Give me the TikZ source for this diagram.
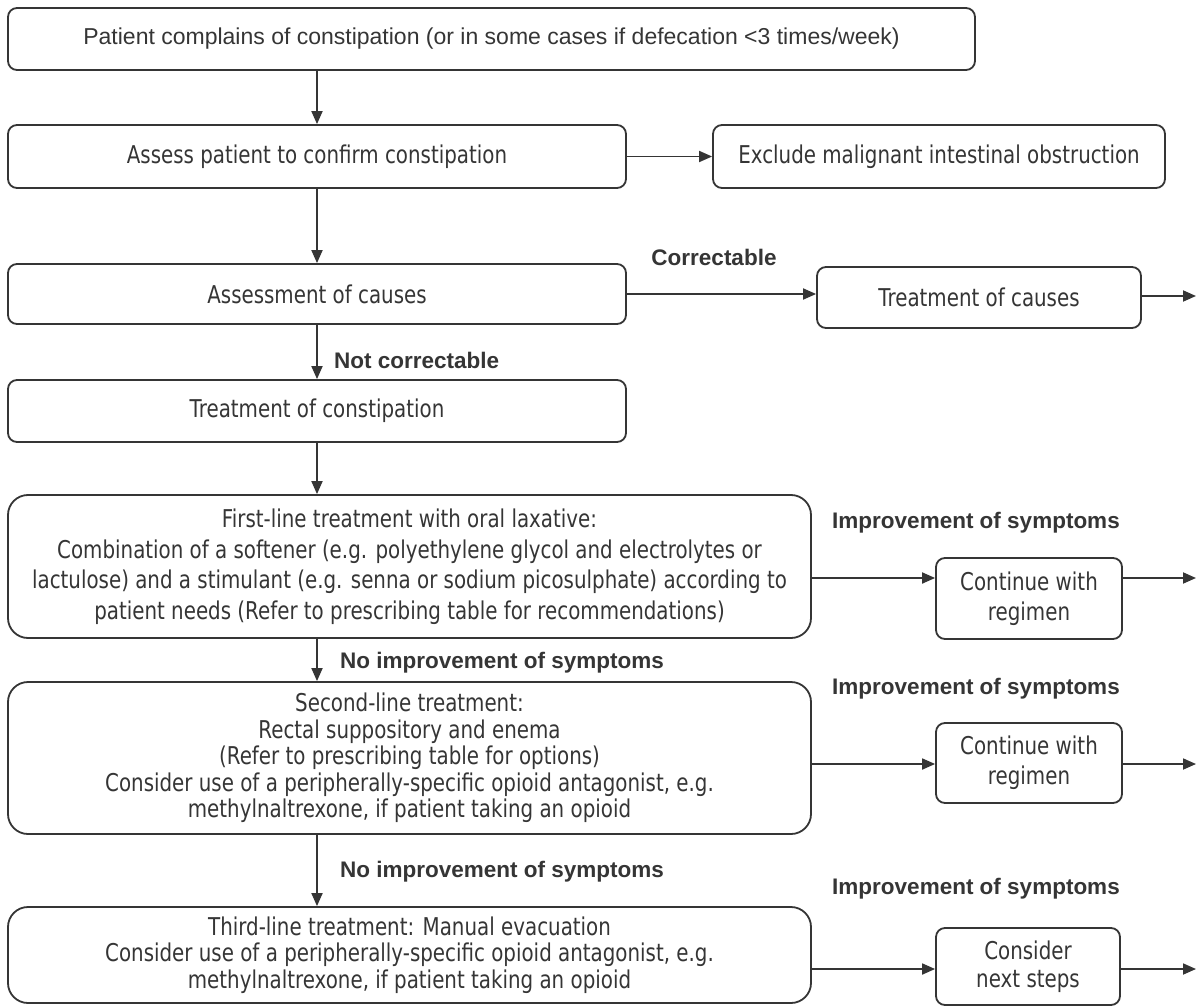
\documentclass[tikz,border=0pt]{standalone}
\usepackage{fontspec}
\setmainfont{Liberation Sans}
\newfontfamily\tah[FakeStretch=0.81]{DejaVu Sans}
\usetikzlibrary{arrows.meta,calc}
\definecolor{ink}{HTML}{353535}
\begin{document}
\begin{tikzpicture}[x=1pt,y=-1pt,
  box/.style={draw=ink, line width=1.8pt, rounded corners=9pt, align=center, text=ink,
    font=\tah\fontsize{24.5}{30}\selectfont, inner sep=0pt},
  bigbox/.style={box, rounded corners=20pt},
  lab/.style={font=\bfseries\fontsize{22.5}{26}\selectfont, text=ink, inner sep=0pt},
  arr/.style={draw=ink, line width=1.8pt, -{Triangle[length=13pt,width=11pt]}}]
\fill[white] (0,0) rectangle (1196,1008);
\useasboundingbox (0,0) rectangle (1196,1008);

\node[box, font=\fontsize{23}{27}\selectfont, minimum width=967pt, minimum height=62pt] (b1) at (491.5,39)
  {Patient complains of constipation (or in some cases if defecation <3 times/week)};
\node[box, minimum width=618pt, minimum height=63pt] (b2) at (317,156.5) {Assess patient to confirm constipation};
\node[box, minimum width=452pt, minimum height=63pt] (b3) at (939,156.5) {Exclude malignant intestinal obstruction};
\node[box, minimum width=618pt, minimum height=60pt] (b4) at (317,294) {Assessment of causes};
\node[box, minimum width=324pt, minimum height=61pt] (b5) at (979,297.5) {Treatment of causes};
\node[box, minimum width=618pt, minimum height=62pt] (b6) at (317,411) {Treatment of constipation};
\node[bigbox, font=\tah\fontsize{24.5}{30.5}\selectfont, minimum width=803pt, minimum height=143pt] (b7) at (409.5,566.5)
  {First-line treatment with oral laxative:\\
   Combination of a softener (e.g. polyethylene glycol and electrolytes or\\
   lactulose) and a stimulant (e.g. senna or sodium picosulphate) according to\\
   patient needs (Refer to prescribing table for recommendations)};
\node[box, minimum width=186pt, minimum height=81pt] (c1) at (1029,598.5) {Continue with\\regimen};
\node[bigbox, font=\tah\fontsize{24.5}{26.5}\selectfont, minimum width=803pt, minimum height=152pt] (b8) at (409.5,758)
  {Second-line treatment:\\
   Rectal suppository and enema\\
   (Refer to prescribing table for options)\\
   Consider use of a peripherally-specific opioid antagonist, e.g.\\
   methylnaltrexone, if patient taking an opioid};
\node[box, minimum width=186pt, minimum height=80pt] (c2) at (1029,763) {Continue with\\regimen};
\node[bigbox, font=\tah\fontsize{24.5}{26.5}\selectfont, minimum width=803pt, minimum height=96pt] (b9) at (409.5,955)
  {Third-line treatment: Manual evacuation\\
   Consider use of a peripherally-specific opioid antagonist, e.g.\\
   methylnaltrexone, if patient taking an opioid};
\node[box, font=\tah\fontsize{24.5}{28}\selectfont, minimum width=184pt, minimum height=77pt] (c3) at (1028,966.5) {Consider\\next steps};

\node[lab] (lcor) at (714,257) {Correctable};
\node[lab, anchor=west] (lnot) at (334,360) {Not correctable};
\node[lab] (li1) at (976,523) {Improvement of symptoms};
\node[lab] (li2) at (976,689) {Improvement of symptoms};
\node[lab] (li3) at (976,889) {Improvement of symptoms};
\node[lab, anchor=west] (ln1) at (340,663) {No improvement of symptoms};
\node[lab, anchor=west] (ln2) at (340,872) {No improvement of symptoms};

\coordinate (a1) at (900,578);
\coordinate (e5) at (1196,296);
\coordinate (e1) at (1196,578);
\coordinate (e2) at (1196,764);
\coordinate (e3) at (1196,969);

\draw[arr] (b2.north |- b1.south) -- (b2.north);
\draw[arr] (b2.east) -- (b3.west);
\draw[arr] (b2.south) -- (b4.north);
\draw[arr] (b4.east) -- (b4.east -| b5.west);
\draw[arr] (b5.east |- e5) -- (e5);
\draw[arr] (b4.south) -- (b6.north);
\draw[arr] (b6.south) -- (b6.south |- b7.north);
\draw[arr] (b7.east |- a1) -- (c1.west |- a1);
\draw[arr] (c1.east |- a1) -- (e1);
\draw[arr] (b6.south |- b7.south) -- (b6.south |- b8.north);
\draw[arr] (b8.east |- e2) -- (c2.west |- e2);
\draw[arr] (c2.east |- e2) -- (e2);
\draw[arr] (b6.south |- b8.south) -- (b6.south |- b9.north);
\draw[arr] (b9.east |- e3) -- (c3.west |- e3);
\draw[arr] (c3.east |- e3) -- (e3);
\end{tikzpicture}
\end{document}
